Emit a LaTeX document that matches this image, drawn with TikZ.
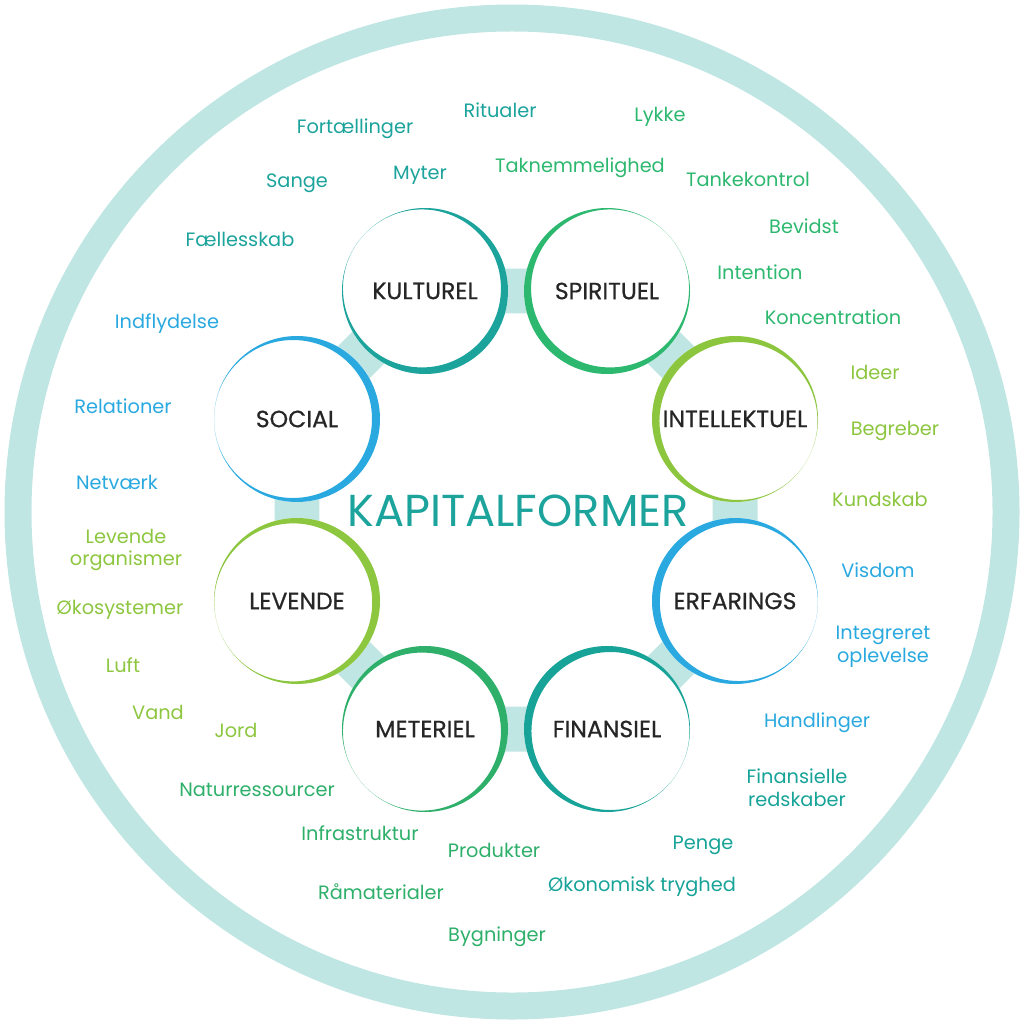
\documentclass[tikz,border=0pt]{standalone}
\usepackage{fontspec}
\setmainfont{Poppins}
\newfontfamily\formfont{Poppins}[FakeBold=0.5]
\usetikzlibrary{positioning,backgrounds,calc}
\definecolor{bandcol}{HTML}{C0E6E4}
\definecolor{kulcol}{HTML}{1BA39C}
\definecolor{spircol}{HTML}{2DB86F}
\definecolor{intcol}{HTML}{8CC63F}
\definecolor{erfcol}{HTML}{29A9E0}
\definecolor{fincol}{HTML}{17A398}
\definecolor{matcol}{HTML}{2EAF6A}
\definecolor{levcol}{HTML}{8DC63F}
\definecolor{soccol}{HTML}{29A9E0}

\begin{document}
\begin{tikzpicture}[x=0.02cm,y=-0.02cm,
   form/.style={circle,fill=white,minimum size=3.32cm,inner sep=0pt,
     text=black!85,font=\formfont\fontsize{13.4}{15}\selectfont},
   word/.style={align=center,font=\fontsize{11}{13}\selectfont},
   band/.style={line width=0.9cm,color=bandcol}]
  \useasboundingbox (0,0) rectangle (1024,1024);

  % the eight forms
  \node[form] (kult) at (425,291) {KULTUREL};
  \node[form] (spir) at (607,291) {SPIRITUEL};
  \node[form] (intel) at (735,419) {INTELLEKTUEL};
  \node[form] (erf) at (735,601) {ERFARINGS};
  \node[form] (fin) at (607,729) {FINANSIEL};
  \node[form] (mat) at (425,729) {METERIEL};
  \node[form] (lev) at (297,601) {LEVENDE};
  \node[form] (soc) at (297,419) {SOCIAL};

  \node[text=kulcol,font=\fontsize{25.5}{30}\selectfont] (title) at (518,511) {KAPITALFORMER};

  % ring and band behind
  \begin{scope}[on background layer]
    \draw[color=bandcol,line width=0.54cm] (512,512) circle (494);
    \draw[band] (kult.center) -- (spir.center) -- (intel.center) -- (erf.center)
      -- (fin.center) -- (mat.center) -- (lev.center) -- (soc.center) -- cycle;
  \end{scope}

  % coloured rims, thick on one side
  \foreach \n/\a/\c in {kult/40/kulcol, spir/140/spircol, intel/210/intcol,
      erf/195/erfcol, fin/210/fincol, mat/320/matcol, lev/340/levcol, soc/0/soccol}
    \fill[\c,even odd rule] (\n.center) circle (83) ($(\n.center)+(\a:-4)$) circle (79);

  % kulturel
  \node[word,text=kulcol] (fort) at (355,129) {Fortællinger};
  \node[word,text=kulcol] (rit) at (500,110) {Ritualer};
  \node[word,text=kulcol] (sange) at (297,183) {Sange};
  \node[word,text=kulcol] (myter) at (420,175) {Myter};
  \node[word,text=kulcol] (faell) at (240,239) {Fællesskab};
  % spirituel
  \node[word,text=spircol] (lykke) at (660,117) {Lykke};
  \node[word,text=spircol] (takn) at (580,168) {Taknemmelighed};
  \node[word,text=spircol] (tanke) at (748,179) {Tankekontrol};
  \node[word,text=spircol] (bev) at (804,226) {Bevidst};
  \node[word,text=spircol] (inten) at (760,272) {Intention};
  \node[word,text=spircol] (konc) at (833,317) {Koncentration};
  % intellektuel
  \node[word,text=intcol] (ideer) at (875,372) {Ideer};
  \node[word,text=intcol] (begr) at (895,431) {Begreber};
  \node[word,text=intcol] (kund) at (880,499) {Kundskab};
  % erfarings
  \node[word,text=erfcol] (visd) at (878,570) {Visdom};
  \node[word,text=erfcol] (integ) at (883,647) {Integreret\\oplevelse};
  \node[word,text=erfcol] (handl) at (817,723) {Handlinger};
  % finansiel
  \node[word,text=fincol] (finr) at (797,788) {Finansielle\\redskaber};
  \node[word,text=fincol] (penge) at (703,845) {Penge};
  \node[word,text=fincol] (okon) at (642,887) {Økonomisk tryghed};
  % materiel
  \node[word,text=matcol] (natur) at (257,790) {Naturressourcer};
  \node[word,text=matcol] (infra) at (360,833) {Infrastruktur};
  \node[word,text=matcol] (prod) at (494,850) {Produkter};
  \node[word,text=matcol] (raam) at (381,892) {Råmaterialer};
  \node[word,text=matcol] (bygn) at (497,937) {Bygninger};
  % levende
  \node[word,text=levcol] (levorg) at (126,550) {Levende\\organismer};
  \node[word,text=levcol] (okos) at (120,610) {Økosystemer};
  \node[word,text=levcol] (luft) at (123,665) {Luft};
  \node[word,text=levcol] (vand) at (158,712) {Vand};
  \node[word,text=levcol] (jord) at (236,730) {Jord};
  % social
  \node[word,text=soccol] (indfl) at (167,324) {Indflydelse};
  \node[word,text=soccol] (relat) at (123,406) {Relationer};
  \node[word,text=soccol] (netv) at (117,482) {Netværk};
\end{tikzpicture}
\end{document}
